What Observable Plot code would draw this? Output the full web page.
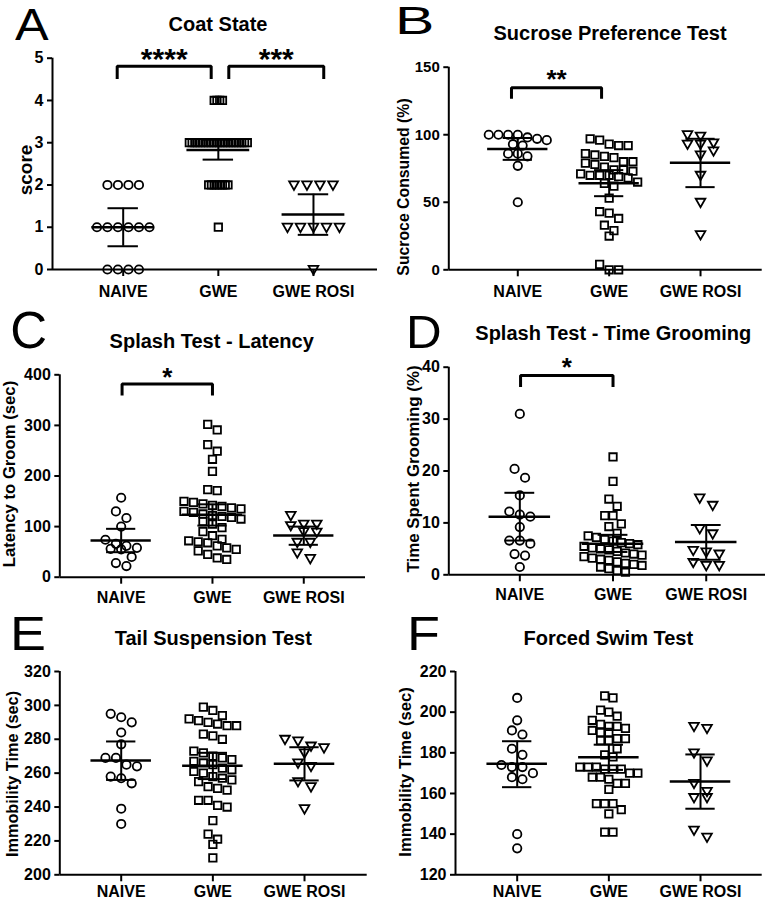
<!DOCTYPE html>
<html><head><meta charset="utf-8">
<script src="https://cdn.jsdelivr.net/npm/d3@7"></script>
<script src="https://cdn.jsdelivr.net/npm/@observablehq/plot@0.6"></script>
<style>
body{margin:0;background:#fff;}
#root{position:relative;width:770px;height:900px;overflow:hidden;font-family:"Liberation Sans",Arial,Helvetica,sans-serif;color:#000;background:#fff;}
.abs{position:absolute;white-space:nowrap;line-height:1;}
.title{font-weight:bold;font-size:20px;transform:translateX(-50%);}
.ylab{font-weight:bold;transform:translate(-50%,-50%) rotate(-90deg);}
.letter{font-weight:normal;line-height:0.8;transform-origin:0 0;}
.panel{position:absolute;}
</style></head><body><div id="root"></div>
<script>
const groups = ["NAIVE", "GWE", "GWE ROSI"];

// A — Coat State
const coatTicks = [0, 1, 2, 3, 4, 5];
const coatNaive = [2,2,2,2,1,1,1,1,1,1,0,0,0,0];
const coatGwe = [4,4,4,4,3,3,3,3,3,3,3,3,3,3,3,3,3,3,3,3,3,3,3,3,3,3,2,2,2,2,2,2,2,2,1];
const coatRosi = [2,2,2,2,1,1,1,1,1,0];
const coatMean = [1.0, 2.83, 1.3];
const coatLo = [0.55, 2.6, 0.82];
const coatHi = [1.45, 3.07, 1.78];
const coatBrackets = [{from:0, to:1, label:"****"}, {from:1, to:2, label:"***"}];
const coatBracketY = [4.51, 4.81];

// B — Sucrose Preference Test
const sucroseTicks = [0, 50, 100, 150];
const sucroseNaive = [100,100,100,100,98,97,96,93,92,86,84,86,77,50];
const sucroseGwe = [97,96,93,92,92,86,85,84,83,80,79,78,80,76,74,73,74,70,70,69,70,68,71,65,62,64,53,43,42,38,33,29,25,4,0,0];
const sucroseRosi = [100,99,93,88,93,94,85,70,50,26];
const sucroseMean = [89.5, 64.1, 79.2];
const sucroseLo = [81.4, 54.5, 61.2];
const sucroseHi = [97.6, 73.8, 97.0];
const sucroseBrackets = [{from:0, to:1, label:"**"}];
const sucroseBracketY = [126.6, 134.7];

// C — Splash Test - Latency
const latencyTicks = [0, 100, 200, 300, 400];
const latencyNaive = [157,130,117,100,74,66,62,55,58,56,40,28,22];
const latencyGwe = [302,291,262,249,233,209,173,171,150,148,145,142,140,137,135,130,128,125,122,120,118,115,110,105,98,90,82,75,72,70,68,62,58,55,52,45,38,35];
const latencyRosi = [102,105,122,105,89,90,69,69,37,48];
const latencyMean = [72.5, 123.3, 82.4];
const latencyLo = [49.4, 102, 64];
const latencyHi = [95.6, 144, 100];
const latencyBrackets = [{from:0, to:1, label:"*"}];
const latencyBracketY = [359, 382];

// D — Splash Test - Time Grooming
const groomTicks = [0, 10, 20, 30, 40];
const groomNaive = [31,20.4,18.7,15.3,11.2,11.6,12.2,9.2,6.6,6.0,6.6,4.0,3.7,1.5];
const groomGwe = [22.7,18,14.6,13.2,11.4,11.4,9.8,9.3,8.0,7.5,7.2,6.8,6.5,6.2,6.0,5.8,5.5,5.2,5.0,4.8,4.5,4.2,4.0,3.8,3.5,3.2,3.0,2.8,2.5,2.2,2.0,1.8,1.5,1.2,0.8,0.5];
const groomRosi = [14.8,13.4,8.9,7.9,4.4,4.7,4.0,1.8,2.4,1.8];
const groomMean = [11.2, 6.0, 6.3];
const groomLo = [6.6, 4.4, 2.9];
const groomHi = [15.8, 7.7, 9.6];
const groomBrackets = [{from:0, to:1, label:"*"}];
const groomBracketY = [36.2, 38.4];

// E — Tail Suspension Test
const tailTicks = [200, 220, 240, 260, 280, 300, 320];
const tailNaive = [295,290,293,284,277,269,269,264,265,257,258,254,239,230];
const tailGwe = [299,297,294,292,290,291,288,288,289,283,280,282,272,273,270,269,267,266,265,268,263,262,261,260,258,257,256,255,252,250,251,244,244,241,240,232,224,221,218,210];
const tailRosi = [276,280,272,275,279,266,264,255,252,239];
const tailMean = [267.5, 264.3, 265.5];
const tailLo = [256, 256.5, 255.7];
const tailHi = [278.7, 272, 275.3];

// F — Forced Swim Test
const swimTicks = [120, 140, 160, 180, 200, 220];
const swimNaive = [207,196,191,189,182,179,174,170,173,173,167,168,140,133];
const swimGwe = [207,208,200,201,196,198,194,193,193,192,191,190,187,186,186,187,190,182,179,178,172,172,173,173,172,173,168,167,170,168,170,165,165,162,152,155,155,155,150,141,141];
const swimRosi = [192,193,180,176,165,161,158,158,138.5,142];
const swimMean = [174.6, 177.8, 165.9];
const swimLo = [163.1, 171.6, 152.5];
const swimHi = [185.7, 184, 179.2];

const panels = [
  {id:"A", title:"Coat State", ylabel:"score", series:[coatNaive, coatGwe, coatRosi], mean:coatMean, lo:coatLo, hi:coatHi, yDomain:[0,5], ticks:coatTicks, brackets:coatBrackets, bracketY:coatBracketY},
  {id:"B", title:"Sucrose Preference Test", ylabel:"Sucroce Consumed (%)", series:[sucroseNaive, sucroseGwe, sucroseRosi], mean:sucroseMean, lo:sucroseLo, hi:sucroseHi, yDomain:[0,150], ticks:sucroseTicks, brackets:sucroseBrackets, bracketY:sucroseBracketY},
  {id:"C", title:"Splash Test - Latency", ylabel:"Latency to Groom (sec)", series:[latencyNaive, latencyGwe, latencyRosi], mean:latencyMean, lo:latencyLo, hi:latencyHi, yDomain:[0,400], ticks:latencyTicks, brackets:latencyBrackets, bracketY:latencyBracketY},
  {id:"D", title:"Splash Test - Time Grooming", ylabel:"Time Spent Grooming (%)", series:[groomNaive, groomGwe, groomRosi], mean:groomMean, lo:groomLo, hi:groomHi, yDomain:[0,40], ticks:groomTicks, brackets:groomBrackets, bracketY:groomBracketY},
  {id:"E", title:"Tail Suspension Test", ylabel:"Immobility Time (sec)", series:[tailNaive, tailGwe, tailRosi], mean:tailMean, lo:tailLo, hi:tailHi, yDomain:[200,320], ticks:tailTicks},
  {id:"F", title:"Forced Swim Test", ylabel:"Immobility Time (sec)", series:[swimNaive, swimGwe, swimRosi], mean:swimMean, lo:swimLo, hi:swimHi, yDomain:[120,220], ticks:swimTicks}
];

// layout (pixels / index-unit offsets)
const layout = {
  A:{left:0, top:40, width:385, height:270, mt:17.7, mb:41, ml:52, mr:8, xDomain:[-0.743,2.673], xPad:9, yFont:16,
     letter:{x:15, base:40.8, size:45, sx:1.12}, title:{x:218, base:30.7}, ylab:{x:25, y:170, size:19},
     bInset:[[-0.063,-0.075],[0.11,0.108]], starSize:30, starDy:-7.1},
  B:{left:385, top:40, width:385, height:270, mt:26.7, mb:40.7, ml:63.3, mr:8.3, xDomain:[-0.755,2.675], xPad:9, yFont:15,
     letter:{x:395, base:34.6, size:38, sx:1.55}, title:{x:610, base:40}, ylab:{x:403.5, y:186.5, size:15.8},
     bInset:[[-0.069,-0.083]], starSize:26, starDy:-8.6},
  C:{left:0, top:350, width:385, height:255, mt:24.3, mb:28.3, ml:59.3, mr:20, xDomain:[-0.672,2.676], xPad:7, yFont:16,
     letter:{x:10.2, base:349.5, size:51, sx:1}, title:{x:211.7, base:347.7}, ylab:{x:10, y:473.5, size:16.7},
     bInset:[[0.01,0]], starSize:26, starDy:-6.3},
  D:{left:385, top:350, width:385, height:255, mt:16.7, mb:30.7, ml:63.3, mr:5, xDomain:[-0.762,2.636], xPad:7, yFont:16,
     letter:{x:406.3, base:348.3, size:47, sx:1.05}, title:{x:613.3, base:340}, ylab:{x:414, y:468.5, size:16.9},
     bInset:[[0.008,0]], starSize:26, starDy:-8},
  E:{left:0, top:650, width:385, height:250, mt:21, mb:25.7, ml:59.3, mr:18.3, xDomain:[-0.67,2.684], xPad:4, yFont:16,
     letter:{x:9.5, base:650.5, size:49, sx:1.1}, title:{x:213.3, base:645}, ylab:{x:11.5, y:773.5, size:16.3}},
  F:{left:385, top:650, width:385, height:250, mt:21, mb:25.7, ml:70, mr:8.3, xDomain:[-0.673,2.673], xPad:4, yFont:16,
     letter:{x:406.5, base:650.5, size:49, sx:1.1}, title:{x:608.3, base:645}, ylab:{x:405.5, y:772, size:16.6}}
};

const FONT = '"Liberation Sans", Arial, Helvetica, sans-serif';
const triDown = {draw(ctx, size) {
  const r = Math.sqrt(size / Math.PI), w = 2.3 * r, h = 2.0 * r;
  ctx.moveTo(-w / 2, -h * 0.42); ctx.lineTo(w / 2, -h * 0.42); ctx.lineTo(0, h * 0.58); ctx.closePath();
}};
const symbols = ["circle", "square", triDown];
const baseSpacing = [10.5, 9.5, 13];

// Prism-like row layout: points within one marker height share a row, centred.
function swarm(vals, k, base, maxSpan, rowH) {
  const idx = d3.range(vals.length).sort((a, b) => vals[b] - vals[a]);
  const rows = [];
  let cur = null;
  for (const i of idx) {
    const py = vals[i] * k;
    if (cur && cur.top - py < rowH) cur.items.push(i);
    else { cur = {top: py, items: [i]}; rows.push(cur); }
  }
  const m = d3.max(rows, r => r.items.length);
  const s = m > 1 ? Math.min(base, maxSpan / (m - 1)) : base;
  const off = new Array(vals.length).fill(0);
  for (const r of rows) {
    const n = r.items.length;
    r.items.forEach((i, j) => { off[i] = (j - (n - 1) / 2) * s; });
  }
  return off;
}

const root = document.getElementById("root");
function addDiv(cls, text, style) {
  const d = document.createElement("div");
  d.className = "abs " + cls;
  d.textContent = text;
  Object.assign(d.style, style);
  root.appendChild(d);
}

for (const p of panels) {
  const L = layout[p.id];
  const innerW = L.width - L.ml - L.mr, innerH = L.height - L.mt - L.mb;
  const kx = innerW / (L.xDomain[1] - L.xDomain[0]);
  const ky = innerH / (p.yDomain[1] - p.yDomain[0]);
  const marks = [];
  p.series.forEach((vals, g) => {
    const off = swarm(vals, ky, baseSpacing[g], 58, 9);
    const pts = vals.map((v, i) => ({x: g + off[i] / kx, y: v}));
    marks.push(Plot.dot(pts, {x: "x", y: "y", r: 4.2, symbol: symbols[g], stroke: "black", strokeWidth: 1.8, fill: "none"}));
  });
  const stats = groups.map((name, g) => ({g, mean: p.mean[g], lo: p.lo[g], hi: p.hi[g]}));
  marks.push(Plot.ruleX(stats, {x: "g", y1: "lo", y2: "hi", stroke: "black", strokeWidth: 2}));
  marks.push(Plot.ruleY(stats, {y: "mean", x1: d => d.g - 0.33, x2: d => d.g + 0.33, stroke: "black", strokeWidth: 2.5}));
  marks.push(Plot.ruleY(stats, {y: "lo", x1: d => d.g - 0.16, x2: d => d.g + 0.16, stroke: "black", strokeWidth: 2}));
  marks.push(Plot.ruleY(stats, {y: "hi", x1: d => d.g - 0.16, x2: d => d.g + 0.16, stroke: "black", strokeWidth: 2}));
  if (p.brackets) {
    const path = [], stars = [];
    p.brackets.forEach((b, j) => {
      const x1 = b.from + L.bInset[j][0], x2 = b.to + L.bInset[j][1];
      const [tip, top] = p.bracketY;
      path.push({z: j, x: x1, y: tip}, {z: j, x: x1, y: top}, {z: j, x: x2, y: top}, {z: j, x: x2, y: tip});
      stars.push({x: (x1 + x2) / 2, y: top, label: b.label});
    });
    marks.push(Plot.line(path, {x: "x", y: "y", z: "z", stroke: "black", strokeWidth: 3, strokeLinejoin: "miter", strokeLinecap: "butt"}));
    marks.push(Plot.text(stars, {x: "x", y: "y", text: "label", fontSize: L.starSize, fontWeight: "bold", dy: L.starDy}));
  }
  marks.push(Plot.ruleX([L.xDomain[0]], {y1: p.yDomain[0], y2: p.yDomain[1], stroke: "black", strokeWidth: 2}));
  marks.push(Plot.ruleY([p.yDomain[0]], {x1: L.xDomain[0], x2: L.xDomain[1], stroke: "black", strokeWidth: 2}));
  marks.push(Plot.axisY({ticks: p.ticks, tickFormat: d => String(d), tickSize: 5, tickPadding: 4, strokeWidth: 2, fontSize: L.yFont, fontWeight: "bold", label: null}));
  marks.push(Plot.axisX({ticks: [0, 1, 2], tickFormat: i => groups[i], tickSize: 7, tickPadding: L.xPad, strokeWidth: 2, fontSize: 16, fontWeight: "bold", label: null}));

  const svg = Plot.plot({
    width: L.width, height: L.height,
    marginTop: L.mt, marginBottom: L.mb, marginLeft: L.ml, marginRight: L.mr,
    x: {type: "linear", domain: L.xDomain},
    y: {type: "linear", domain: p.yDomain},
    style: {fontFamily: FONT, fontWeight: "bold", fontSize: "16px", color: "black", background: "transparent", overflow: "visible"},
    marks
  });
  svg.classList.add("panel");
  svg.style.left = L.left + "px";
  svg.style.top = L.top + "px";
  root.appendChild(svg);
}

for (const p of panels) {
  const L = layout[p.id];
  addDiv("letter", p.id, {left: L.letter.x + "px", top: (L.letter.base - 0.7465 * L.letter.size) + "px", fontSize: L.letter.size + "px", transform: `scaleX(${L.letter.sx})`});
  addDiv("title", p.title, {left: L.title.x + "px", top: (L.title.base - 0.8465 * 20) + "px"});
  addDiv("ylab", p.ylabel, {left: L.ylab.x + "px", top: L.ylab.y + "px", fontSize: L.ylab.size + "px"});
}
</script>
</body></html>
